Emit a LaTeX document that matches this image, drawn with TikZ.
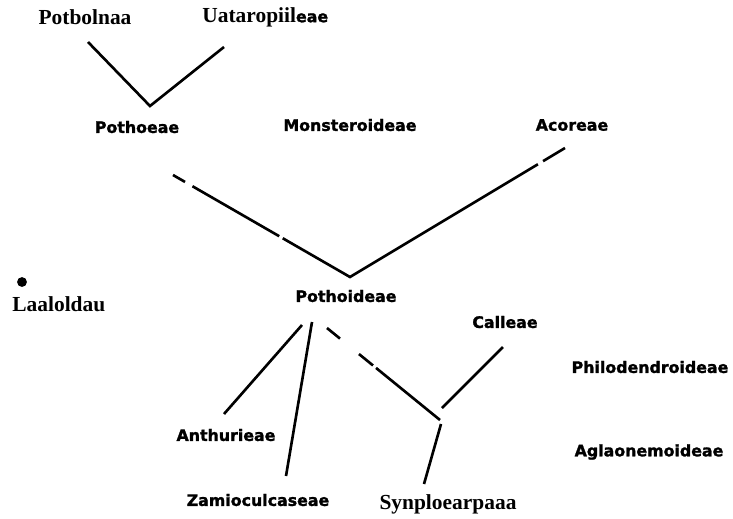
\documentclass[tikz,border=0pt]{standalone}
\usepackage{fontspec}
\setmainfont{Liberation Serif}
\newfontfamily\blurfont[BoldFeatures={FakeBold=1.5}]{DejaVu Sans}
\usetikzlibrary{calc}

\tikzset{
    taxon/.style={font=\fontsize{12.2}{14}\selectfont\bfseries, inner sep=0pt},
    blurtaxon/.style={font=\blurfont\fontsize{9}{11}\selectfont\bfseries, inner sep=0pt},
    branch/.style={line width=1.5pt}
}

\begin{document}
\begin{tikzpicture}[x=0.02cm, y=-0.02cm]
    \useasboundingbox (0,0) rectangle (733,518);

    % labels
    \node[taxon] (potbolnaa) at (85,17) {Potbolnaa};
    \node[taxon, anchor=west] (uataro) at (202,17) {Uataropiil{\blurfont\fontsize{9}{11}\selectfont\bfseries eae}};
    \node[blurtaxon] (pothoeae) at (137,127) {Pothoeae};
    \node[blurtaxon] (monstera) at (350,125) {Monsteroideae};
    \node[blurtaxon] (acoreae) at (572,125) {Acoreae};
    \node[blurtaxon] (pothoideae) at (346,296) {Pothoideae};
    \node[taxon, anchor=west] (laaloldau) at (12,304) {Laaloldau};
    \node[blurtaxon] (calleae) at (505,322) {Calleae};
    \node[blurtaxon] (philodendro) at (650,367) {Philodendroideae};
    \node[blurtaxon] (anthurieae) at (226,435) {Anthurieae};
    \node[blurtaxon] (aglaonema) at (649,452) {Aglaonemoideae};
    \node[blurtaxon] (zamioculc) at (258,500) {Zamioculcaseae};
    \node[taxon] (synplo) at (448,504) {Synploearpaaa};

    \fill (22,282) circle (2.8pt);

    % branch ends
    \coordinate (T1) at (88,42);
    \coordinate (T2) at (224,47);
    \coordinate (TV) at (150,106);
    \coordinate (L1) at (173,175);
    \coordinate (R1) at (565,148);
    \coordinate (PV) at (350,277);
    \coordinate (A1) at (302,325);
    \coordinate (A2) at (224,414);
    \coordinate (Z1) at (312,322);
    \coordinate (Z2) at (286,476);
    \coordinate (S1) at (327,328);
    \coordinate (SV) at (440,420);
    \coordinate (C1) at (442,408);
    \coordinate (C2) at (503,347);
    \coordinate (D1) at (441,424);
    \coordinate (D2) at (424,484);

    \draw[branch] (T1) -- (TV) -- (T2);

    \draw[branch] (L1) -- ($(L1)!0.068!(PV)$);
    \draw[branch] ($(L1)!0.11!(PV)$) -- ($(L1)!0.60!(PV)$);
    \draw[branch] ($(L1)!0.62!(PV)$) -- (PV) -- ($(PV)!0.874!(R1)$);
    \draw[branch] ($(PV)!0.898!(R1)$) -- (R1);

    \draw[branch] (A1) -- (A2);
    \draw[branch] (Z1) -- (Z2);

    \draw[branch] (S1) -- ($(S1)!0.115!(SV)$);
    \draw[branch] ($(S1)!0.283!(SV)$) -- ($(S1)!0.407!(SV)$);
    \draw[branch] ($(S1)!0.434!(SV)$) -- (SV);
    \draw[branch] (C1) -- (C2);
    \draw[branch] (D1) -- (D2);
\end{tikzpicture}
\end{document}
